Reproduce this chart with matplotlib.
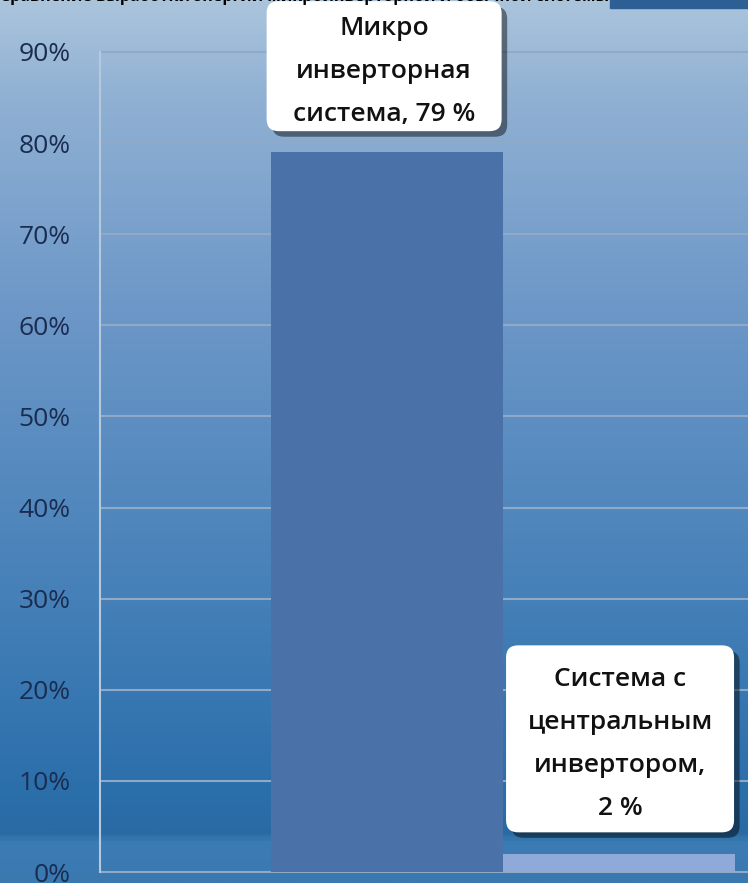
import numpy as np
import matplotlib
matplotlib.use('Agg')
import matplotlib.pyplot as plt
import matplotlib.patheffects as pe
import matplotlib.transforms as mtransforms
from matplotlib.colors import LinearSegmentedColormap
from matplotlib.patches import FancyBboxPatch

# данные
categories = ['Микро\nинверторная\nсистема', 'Система с\nцентральным\nинвертором']
values = [0.79, 0.02]
labels = ['Микро\nинверторная\nсистема, 79 %', 'Система с\nцентральным\nинвертором,\n2 %']
yticks = [0, 0.1, 0.2, 0.3, 0.4, 0.5, 0.6, 0.7, 0.8, 0.9]
ytick_labels = ['0%', '10%', '20%', '30%', '40%', '50%', '60%', '70%', '80%', '90%']

plt.rcParams['font.family'] = ['Open Sans', 'DejaVu Sans']

W, H = 748, 883
fig = plt.figure(figsize=(W / 100, H / 100), dpi=100)

# фон с градиентом
bg = fig.add_axes([0, 0, 1, 1], zorder=0)
stops = [(0.0, '#aac4dc'), (100 / H, '#8fb0d3'), (300 / H, '#6e98c8'), (500 / H, '#5288bd'),
         (600 / H, '#4580b8'), (800 / H, '#2a6eaa'), (835 / H, '#2a6aa4'), (845 / H, '#3c7cb5'),
         (1.0, '#3a78b0')]
cmap = LinearSegmentedColormap.from_list('bg', stops)
grad = np.linspace(0, 1, 400).reshape(-1, 1)
bg.imshow(grad, aspect='auto', cmap=cmap, extent=[0, 1, 1, 0])
bg.set_xlim(0, 1)
bg.set_ylim(1, 0)
bg.axis('off')
bg.add_patch(plt.Rectangle((610 / W, 0), 138 / W, 8 / H, color='#2d5f95', zorder=2))

# заголовок, обрезанный сверху
fig.text(0.0, 1.004, 'Сравнение выработки энергии микроинверторной и обычной системы',
         fontsize=11.5, fontweight='bold', color='black', ha='left', va='center', zorder=3)

ax = fig.add_axes([100 / W, 0, 648 / W, 1], zorder=1)
ax.patch.set_alpha(0)
x = np.arange(1, len(values) + 1)
bars = ax.bar(x, values, width=1.0, color=['#4a72a8', '#8fa9d9'], zorder=3)

ax.set_xlim(-0.238, 2.556)
ax.set_ylim(-0.012, 0.957)
ax.set_yticks(yticks)
ax.set_yticklabels(ytick_labels, fontsize=19, color='#1a2c50')
ax.tick_params(axis='y', length=0, pad=21)
ax.set_xticks([])
for s in ['top', 'right', 'bottom']:
    ax.spines[s].set_visible(False)
ax.spines['left'].set_bounds(0, 0.9)
ax.spines['left'].set_color('#b5c9de')
ax.spines['left'].set_linewidth(1.5)
ax.yaxis.grid(True, color='#8fa9c6', linewidth=1.5, zorder=1)
ax.set_axisbelow(True)

# подписи в белых рамках (размеры рамок в пикселях)
box_sizes = [(235, 130), (228, 187)]
box_offsets = [(-3, 86), (1, 115)]
for xi, v, lab, (bw, bh), (dx, dy) in zip(x, values, labels, box_sizes, box_offsets):
    px, py = ax.transData.transform((xi, v))
    tr = mtransforms.Affine2D().translate(px + dx, py + dy)
    box = FancyBboxPatch((-bw / 2 + 12, -bh / 2 + 12), bw - 24, bh - 24,
                         boxstyle='round,pad=12', transform=tr, fc='white', ec='none', zorder=5)
    box.set_path_effects([pe.withSimplePatchShadow(offset=(4, -4), shadow_rgbFace='k', alpha=0.45)])
    ax.add_patch(box)
    ax.annotate(lab, xy=(xi, v), xytext=(dx, dy - 5), textcoords='offset pixels',
                ha='center', va='center', fontsize=19, color='#111111', fontweight='semibold',
                linespacing=1.95, zorder=6)

fig.savefig('out.png', dpi=100)
